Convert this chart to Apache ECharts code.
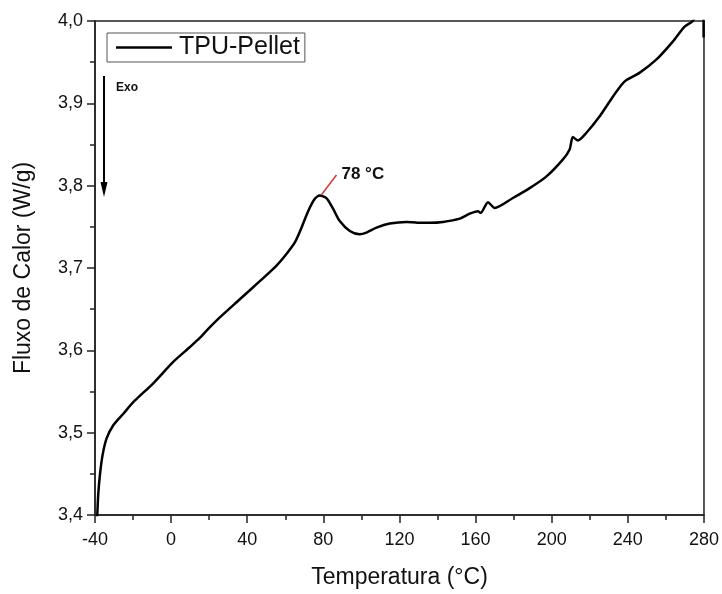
<!DOCTYPE html>
<html>
<head>
<meta charset="utf-8">
<script src="https://cdn.jsdelivr.net/npm/echarts@6/dist/echarts.min.js"></script>
<style>html,body{margin:0;padding:0;background:#fff;}#c{width:722px;height:594px;}</style>
</head>
<body>
<div id="c"></div>
<script>
const temperature = [-38.9,-38.8,-38.3,-37.4,-36.0,-33.9,-30.4,-25.1,-19.9,-9.4,1.1,9.9,15.1,19.5,25.6,36.1,46.6,55.4,60.6,65.0,68.5,72.0,75.5,78.1,81.6,85.1,88.6,93.9,99.1,102.6,107.9,114.9,123.6,129.6,135.9,142.8,151.6,156.9,161.2,162.7,166.5,170.0,179.6,188.4,197.1,205.9,209.4,211.1,213.7,218.1,225.1,232.1,236.5,239.1,246.1,254.9,263.6,269.7,274.1,277.0,279.7,279.8];
const heatFlow = [3.39,3.400,3.425,3.449,3.473,3.493,3.509,3.523,3.537,3.560,3.586,3.604,3.615,3.626,3.640,3.662,3.684,3.703,3.717,3.731,3.749,3.769,3.784,3.788,3.785,3.772,3.757,3.745,3.741,3.743,3.749,3.754,3.756,3.755,3.755,3.756,3.760,3.766,3.769,3.767,3.780,3.773,3.785,3.797,3.811,3.832,3.844,3.859,3.855,3.864,3.884,3.908,3.922,3.928,3.937,3.953,3.975,3.993,4.000,4.015,4.020,3.980];
const seriesName = 'TPU-Pellet';
const peakLine = [[79.0, 3.789], [86.9, 3.813]];
const peakLabelAt = [89.5, 3.8135];
const peakText = '78 °C';
const xTicks = {min: -40, max: 280, interval: 40};
const yTicks = {min: 3.4, max: 4.0, interval: 0.1};

const data = temperature.map((t, i) => [t, heatFlow[i]]);
const FONT = 'Liberation Sans, Arial, sans-serif';
const chart = echarts.init(document.getElementById('c'), null, {renderer: 'canvas'});
const axisCommon = {
  axisLine: {show: true, onZero: false, lineStyle: {color: '#222', width: 1.5}},
  axisTick: {show: true, inside: false, length: 8, lineStyle: {color: '#222', width: 1.5}},
  minorTick: {show: true, splitNumber: 2, length: 5, lineStyle: {color: '#222', width: 1.5}},
  splitLine: {show: false}
};
chart.setOption({
  animation: false,
  backgroundColor: '#fff',
  grid: {left: 95, right: 17, top: 21, bottom: 77, show: true, borderColor: '#222', borderWidth: 1.5, backgroundColor: 'transparent'},
  legend: {
    left: 107, top: 33, orient: 'vertical',
    data: [{name: seriesName, icon: 'rect'}],
    itemWidth: 56, itemHeight: 2.5, itemGap: 0,
    padding: [2, 5, 2, 9],
    itemStyle: {color: '#000'},
    borderColor: '#555', borderWidth: 1, borderRadius: 0,
    textStyle: {fontFamily: FONT, fontSize: 25, color: '#111', padding: [0, 0, 0, 2]}
  },
  xAxis: Object.assign({
    type: 'value', min: xTicks.min, max: xTicks.max, interval: xTicks.interval,
    name: 'Temperatura (°C)', nameLocation: 'middle', nameGap: 51,
    nameTextStyle: {fontFamily: FONT, fontSize: 23, color: '#111'},
    axisLabel: {fontFamily: FONT, fontSize: 18, color: '#111', margin: 16, formatter: v => String(v)}
  }, axisCommon),
  yAxis: Object.assign({
    type: 'value', min: yTicks.min, max: yTicks.max, interval: yTicks.interval,
    name: 'Fluxo de Calor (W/g)', nameLocation: 'middle', nameGap: 60, nameRotate: 90,
    nameTextStyle: {fontFamily: FONT, fontSize: 23, color: '#111'},
    axisLabel: {fontFamily: FONT, fontSize: 18, color: '#111', margin: 12, formatter: v => v.toFixed(1).replace('.', ',')}
  }, axisCommon),
  series: [{
    name: seriesName, type: 'line', data: data, symbol: 'none', smooth: 0.25,
    clip: true,
    lineStyle: {color: '#000', width: 2.5},
    itemStyle: {color: '#000'},
    markLine: {
      silent: true, symbol: 'none', animation: false,
      lineStyle: {color: '#d9383a', width: 1.5, type: 'solid'},
      label: {show: false},
      data: [[{coord: peakLine[0]}, {coord: peakLine[1]}]]
    },
    markPoint: {
      silent: true, symbol: 'circle', symbolSize: 0,
      data: [{coord: peakLabelAt, value: peakText}],
      label: {show: true, position: 'right', distance: 0, formatter: peakText,
        fontFamily: FONT, fontSize: 17, fontWeight: 'bold', color: '#111'}
    }
  }],
  graphic: [
    {type: 'line', shape: {x1: 104, y1: 76, x2: 104, y2: 184}, style: {stroke: '#000', lineWidth: 2}},
    {type: 'polygon', shape: {points: [[100.5, 182], [107.5, 182], [104, 197]]}, style: {fill: '#000'}},
    {type: 'text', left: 116, top: 82, style: {text: 'Exo', fontFamily: FONT, fontSize: 12, fontWeight: 'bold', fill: '#111'}}
  ]
});
</script>
</body>
</html>
